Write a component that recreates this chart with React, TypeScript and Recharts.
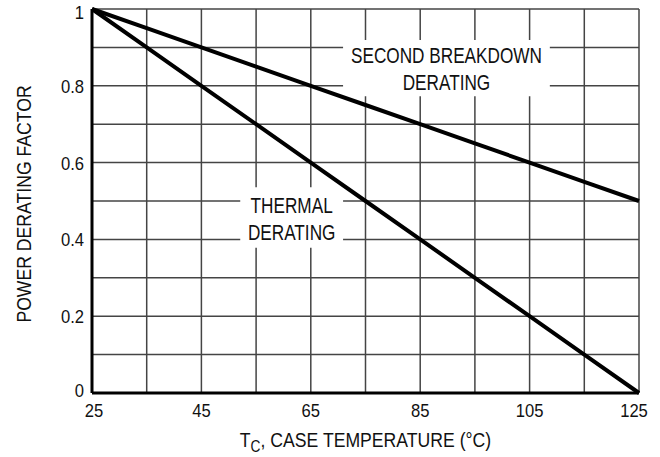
import React from "react";
import {
  LineChart,
  Line,
  XAxis,
  YAxis,
  CartesianGrid,
  ReferenceArea
} from "recharts";

// case temperature, read at every vertical gridline
const temps = [25, 35, 45, 55, 65, 75, 85, 95, 105, 115, 125];
const secondBreakdown = [1, 0.95, 0.9, 0.85, 0.8, 0.75, 0.7, 0.65, 0.6, 0.55, 0.5];
const thermal = [1, 0.9, 0.8, 0.7, 0.6, 0.5, 0.4, 0.3, 0.2, 0.1, 0];

const xTicks = [25, 35, 45, 55, 65, 75, 85, 95, 105, 115, 125];
const xLabels = [25, 45, 65, 85, 105, 125];
const yTicks = [0, 0.1, 0.2, 0.3, 0.4, 0.5, 0.6, 0.7, 0.8, 0.9, 1];
const yLabels = [0, 0.2, 0.4, 0.6, 0.8, 1];

const FONT = "'Liberation Sans', Arial, sans-serif";

const data = temps.map((t, i) => ({
  t,
  sb: secondBreakdown[i],
  th: thermal[i]
}));

// narrow text: regular sans squeezed horizontally
const Narrow = ({ x, y, size, sx, anchor = "middle", rotate = 0, children }: any) => (
  <g transform={`translate(${x},${y}) rotate(${rotate}) scale(${sx},1)`}>
    <text x={0} y={0} textAnchor={anchor} fontFamily={FONT} fontSize={size} fill="#111">
      {children}
    </text>
  </g>
);

const twoLine = (l1: string, l2: string) => (props: any) => {
  const { x, y, width, height } = props.viewBox;
  const cx = x + width / 2;
  const cy = y + height / 2;
  return (
    <g>
      <Narrow x={cx} y={cy - 5} size={21.5} sx={0.8}>{l1}</Narrow>
      <Narrow x={cx} y={cy + 22} size={21.5} sx={0.8}>{l2}</Narrow>
    </g>
  );
};

const XTick = (props: any) => {
  const { x, payload } = props;
  if (!xLabels.includes(payload.value)) return null;
  const shift = payload.value === 25 ? 2 : payload.value === 125 ? -5 : 0;
  return <Narrow x={x + shift} y={417} size={17.5} sx={0.95}>{payload.value}</Narrow>;
};

const YTick = (props: any) => {
  const { x, y, payload } = props;
  if (!yLabels.some((l) => Math.abs(l - payload.value) < 1e-9)) return null;
  const dy = payload.value === 1 ? 10 : payload.value === 0 ? 4 : 7;
  return <Narrow x={x} y={y + dy} size={17.5} sx={0.95} anchor="end">{payload.value}</Narrow>;
};

const XTitle = (props: any) => {
  const { x, width } = props.viewBox;
  return (
    <Narrow x={x + width / 2} y={447} size={20.5} sx={0.86}>
      T<tspan fontSize={16} dy={5}>C</tspan>
      <tspan dy={-5}>, CASE TEMPERATURE (°C)</tspan>
    </Narrow>
  );
};

const YTitle = (props: any) => {
  const { y, height } = props.viewBox;
  const cy = y + height / 2 + 3;
  return (
    <Narrow x={31} y={cy} size={20.5} sx={0.86} rotate={-90}>
      POWER DERATING FACTOR
    </Narrow>
  );
};

const App = () => {
  return (
    <div style={{ position: "absolute", left: 0, top: 0, background: "#fff" }}>
      <LineChart
        width={660}
        height={457}
        data={data}
        margin={{ top: 9, right: 21, left: 52, bottom: 34 }}
      >
        <CartesianGrid stroke="#444" strokeWidth={1.5} />
        <XAxis
          dataKey="t"
          type="number"
          domain={[25, 125]}
          ticks={xTicks}
          interval={0}
          tickLine={false}
          tickSize={0}
          tickMargin={3}
          height={30}
          axisLine={{ stroke: "#000", strokeWidth: 3 }}
          tick={<XTick />}
          label={<XTitle />}
        />
        <YAxis
          type="number"
          domain={[0, 1]}
          ticks={yTicks}
          interval={0}
          tickLine={false}
          tickSize={0}
          tickMargin={8}
          width={40}
          axisLine={{ stroke: "#000", strokeWidth: 3 }}
          tick={<YTick />}
          label={<YTitle />}
        />
        <ReferenceArea x1={70.9} x2={108.7} y1={0.773} y2={0.919} fill="#fff" fillOpacity={1}
          stroke="none" label={twoLine("SECOND BREAKDOWN", "DERATING")} />
        <ReferenceArea x1={52.1} x2={70.9} y1={0.378} y2={0.536} fill="#fff" fillOpacity={1}
          stroke="none" label={twoLine("THERMAL", "DERATING")} />
        <Line dataKey="sb" stroke="#000" strokeWidth={4} dot={false} isAnimationActive={false} />
        <Line dataKey="th" stroke="#000" strokeWidth={4} dot={false} isAnimationActive={false} />
      </LineChart>
    </div>
  );
};

export default App;
